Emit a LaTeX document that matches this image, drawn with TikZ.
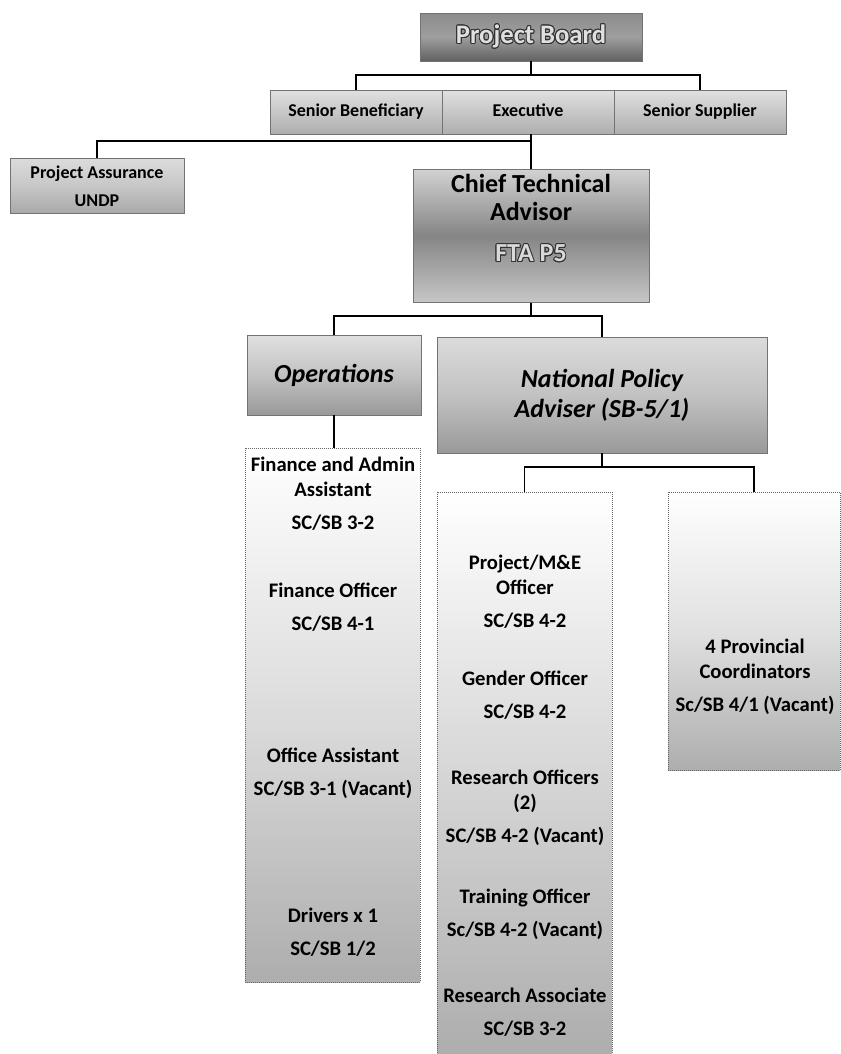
\documentclass[tikz,border=0pt]{standalone}
\usepackage{fontspec}
\setmainfont{Carlito}
\usepackage[copies]{contour}
\contourlength{0.7pt}
\tikzset{
    box/.style={draw=black!55, line width=0.4pt, inner sep=0pt, align=center, font=\bfseries},
    rolebox/.style={box, minimum width=129pt, minimum height=33pt, top color=black!12, bottom color=black!32,
        text height=10pt, text depth=3pt, font=\fontsize{13.5}{16}\selectfont\bfseries},
    colbox/.style={draw=black!60, densely dotted, line width=0.5pt, top color=white, bottom color=black!32},
    entry/.style={anchor=north, align=center, inner sep=0pt, font=\fontsize{15.5}{18.5}\selectfont\bfseries},
    conn/.style={line width=1.1pt, black}
}
\begin{document}
\begin{tikzpicture}[x=0.75pt, y=-0.75pt]
    \useasboundingbox (0,0) rectangle (840,1054);

    % board and its three roles
    \node[box, minimum width=166.5pt, minimum height=36pt, top color=black!45, bottom color=black!62, middle color=black!38,
          font=\fontsize{20}{24}\selectfont\bfseries, text=black!12] (board) at (531,37) {\contour{black!80}{Project Board}};
    \node[rolebox] (benef) at (356,112) {Senior Beneficiary};
    \node[rolebox] (exec) at (528,112) {Executive};
    \node[rolebox] (suppl) at (700,112) {Senior Supplier};

    \node[box, minimum width=130.5pt, minimum height=41.25pt, top color=black!14, bottom color=black!34, middle color=black!22,
          font=\fontsize{13.5}{21}\selectfont\bfseries] (assur) at (97,186) {Project Assurance\\UNDP};

    % chief technical advisor
    \node[box, minimum width=177pt, minimum height=99.75pt, top color=black!18, bottom color=black!22, middle color=black!48] (cta) at (531,236) {};
    \node[anchor=north, align=center, inner sep=0pt, font=\fontsize{19.5}{21}\selectfont\bfseries] (ctatext) at (531,174)
        {Chief Technical\\Advisor\\[10pt]\textcolor{black!15}{\contour{black!80}{FTA P5}}};

    \node[box, minimum width=130.5pt, minimum height=60pt, top color=black!12, bottom color=black!40, middle color=black!24,
          font=\fontsize{19.5}{22.5}\selectfont\bfseries\itshape] (ops) at (334,375) {Operations};
    \node[box, minimum width=247.5pt, minimum height=87pt, top color=black!14, bottom color=black!40, middle color=black!24,
          font=\fontsize{19.5}{22.5}\selectfont\bfseries\itshape] (npa) at (602,395) {National Policy\\Adviser (SB-5/1)};

    % staff columns
    \node[colbox, minimum width=131.25pt, minimum height=400.5pt, middle color=black!14] (col1) at (332.5,715) {};
    \node[colbox, minimum width=131.25pt, minimum height=421.5pt, middle color=black!16] (col2) at (524.5,773) {};
    \node[colbox, minimum width=129pt, minimum height=208.5pt, middle color=black!12] (col3) at (754,631) {};

    \node[entry] (fin) at (333,457) {Finance and Admin\\Assistant\\[6pt]SC/SB 3-2};
    \node[entry] (finoff) at (333,583) {Finance Officer\\[6pt]SC/SB 4-1};
    \node[entry] (offas) at (333,748) {Office Assistant\\[6pt]SC/SB 3-1 (Vacant)};
    \node[entry] (drv) at (333,908) {Drivers x 1\\[6pt]SC/SB 1/2};

    \node[entry] (pme) at (525,555) {Project/M\&E\\Officer\\[6pt]SC/SB 4-2};
    \node[entry] (gen) at (525,671) {Gender Officer\\[6pt]SC/SB 4-2};
    \node[entry] (resoff) at (525,770) {Research Officers\\(2)\\[6pt]SC/SB 4-2 (Vacant)};
    \node[entry] (trn) at (525,889) {Training Officer\\[6pt]Sc/SB 4-2 (Vacant)};
    \node[entry] (rsa) at (525,988) {Research Associate\\[6pt]SC/SB 3-2};

    \node[entry] (prov) at (755,639) {4 Provincial\\Coordinators\\[6pt]Sc/SB 4/1 (Vacant)};

    % connectors
    \coordinate (bj) at (531,75);
    \coordinate (aj) at (531,141);
    \coordinate (cj) at (531,316);
    \coordinate (nj) at (602,467);
    \draw[conn] (board.south) -- (bj);
    \draw[conn] (benef.north) |- (bj) -| (suppl.north);
    \draw[conn] (cta.north) -- (cta.north |- exec.south);
    \draw[conn] (aj) -| (assur.north);
    \draw[conn] (cta.south) -- (cj);
    \draw[conn] (ops.north) |- (cj) -| (npa.north);
    \draw[conn] (ops.south) -- (ops.south |- col1.north);
    \draw[conn] (npa.south) -- (nj);
    \draw[conn] (col2.north) |- (nj) -| (col3.north);
\end{tikzpicture}
\end{document}
